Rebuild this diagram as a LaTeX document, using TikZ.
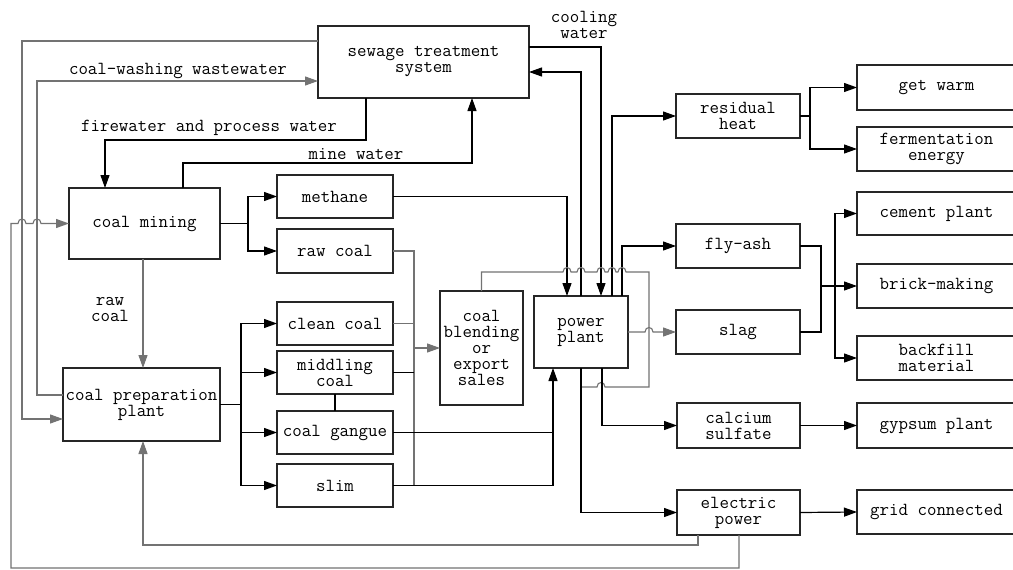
\documentclass[tikz,border=0pt]{standalone}
\usepackage{fontspec}
\usetikzlibrary{arrows.meta}
\newcommand\dgfont{\ttfamily\fontsize{18.4}{16}\selectfont}
\begin{document}
\begin{tikzpicture}[x=1pt,y=-1pt,
  box/.style={draw=black!85, line width=1.3pt, inner sep=0pt, outer sep=0pt, align=center, font=\dgfont},
  lab/.style={inner sep=0pt, align=center, font=\dgfont},
  wire/.style={draw=black, line width=1.2pt},
  gwire/.style={draw=black!55, line width=1.1pt},
  arr/.style={-{Triangle[length=13pt,width=9pt]}},
  rbox/.style={box, minimum width=159pt}]
\path[use as bounding box] (0,0) rectangle (1013,570);
\clip (0,0) rectangle (1013,570);
\fill[white] (0,0) rectangle (1013,570);

% ---- boxes ----
\node[box, minimum width=211pt, minimum height=72pt] (sew) at (423.5,62) {sewage treatment\\system};
\node[box, minimum width=151pt, minimum height=71pt] (mining) at (144.5,223.5) {coal mining};
\node[box, minimum width=116pt, minimum height=43pt] (methane) at (335,196.5) {methane};
\node[box, minimum width=116pt, minimum height=44pt] (rawcoal) at (335,251) {raw coal};
\node[box, minimum width=116pt, minimum height=43pt] (clean) at (335,323.5) {clean coal};
\node[box, minimum width=116pt, minimum height=43pt] (middling) at (335,372.5) {middling\\coal};
\node[box, minimum width=116pt, minimum height=43pt] (gangue) at (335,432.5) {coal gangue};
\node[box, minimum width=116pt, minimum height=43pt] (slim) at (335,485.5) {slim};
\node[box, minimum width=157pt, minimum height=73pt] (prep) at (141.5,404.5) {coal preparation\\plant};
\node[box, minimum width=83pt, minimum height=114pt] (blend) at (481.5,348) {coal\\blending\\or\\export\\sales};
\node[box, minimum width=94pt, minimum height=72pt] (power) at (581,332) {power\\plant};
\node[box, minimum width=124pt, minimum height=44pt] (heat) at (738,116) {residual\\heat};
\node[box, minimum width=124pt, minimum height=44pt] (flyash) at (738,246) {fly-ash};
\node[box, minimum width=124pt, minimum height=44pt] (slag) at (738,332) {slag};
\node[box, minimum width=123pt, minimum height=45pt] (calcium) at (738.5,425.5) {calcium\\sulfate};
\node[box, minimum width=123pt, minimum height=45pt] (electric) at (738.5,512.5) {electric\\power};
\node[rbox, minimum height=45pt] (warm) at (936.5,87.5) {get warm};
\node[rbox, minimum height=44pt] (ferm) at (936.5,149) {fermentation\\energy};
\node[rbox, minimum height=43pt] (cement) at (936.5,213.5) {cement plant};
\node[rbox, minimum height=44pt] (brick) at (936.5,286) {brick-making};
\node[rbox, minimum height=44pt] (backfill) at (936.5,358) {backfill\\material};
\node[rbox, minimum height=45pt] (gypsum) at (936.5,425.5) {gypsum plant};
\node[rbox, minimum height=44pt] (grid) at (936.5,512) {grid connected};

% ---- labels ----
\node[lab] (lwash) at (178,71) {coal-washing wastewater};
\node[lab] (lfire) at (209,128) {firewater and process water};
\node[lab] (lmine) at (356,154) {mine water};
\node[lab] (lcool) at (584,25) {cooling\\water};
\node[lab] (lraw) at (110,309.5) {raw\\coal};

% ---- connectors ----
% sewage -> coal preparation plant (outer loop)
\draw[gwire,arr] (sew.west |- 0,41) -| (22,419) -- (prep.west |- 0,419);
% coal-washing wastewater
\draw[gwire,arr] (prep.west |- 0,395) -| (37,81) -- (sew.west |- 0,81);
% firewater and process water
\draw[wire,arr] (sew.south -| 366,0) |- (105,140) -- (mining.north -| 105,0);
% mine water
\draw[wire,arr] (mining.north -| 183,0) |- (472,163) -- (sew.south -| 472,0);
% coal mining -> methane / raw coal
\coordinate (j1) at (248,223.5);
\draw[wire] (mining.east) -- (j1);
\draw[wire,arr] (j1) |- (methane.west);
\draw[wire,arr] (j1) |- (rawcoal.west);
% coal mining -> coal preparation plant
\draw[gwire,arr] (mining.south -| 143,0) -- (prep.north -| 143,0);
% coal preparation plant -> products
\coordinate (j2) at (241,404.5);
\draw[wire] (prep.east) -- (j2);
\draw[wire,arr] (j2) |- (clean.west);
\draw[wire,arr] (j2) |- (middling.west);
\draw[wire,arr] (j2) |- (gangue.west);
\draw[wire,arr] (j2) |- (slim.west);
\draw[wire] (middling.south) -- (gangue.north);
% bus to coal blending
\draw[gwire] (rawcoal.east) -| (414,485.5);
\draw[gwire] (clean.east) -- (clean.east -| 414,0);
\draw[wire] (middling.east) -- (middling.east -| 414,0);
\draw[gwire,arr] (414,348) -- (blend.west);
% gangue, slim -> power plant
\draw[wire] (gangue.east) -- (gangue.east -| 553,0);
\draw[wire,arr] (slim.east) -| (power.south -| 553,0);
% methane -> power plant
\draw[wire,arr] (methane.east) -| (power.north -| 567,0);
% cooling water
\draw[wire,arr] (sew.east |- 0,47) -| (power.north -| 601,0);
% power plant -> sewage
\draw[wire,arr] (power.north -| 581,0) |- (sew.east |- 0,72);
% power plant -> residual heat, fly-ash
\draw[wire,arr] (power.north -| 612,0) |- (heat.west);
\draw[wire,arr] (power.north -| 622,0) |- (flyash.west);
% coal blending loop with hops
\draw[gwire] (blend.north -| 481.5,0) -- (481.5,272) -- (563,272)
  .. controls (563,266) and (571,266) .. (571,272) -- (577,272)
  .. controls (577,266) and (585,266) .. (585,272) -- (597,272)
  .. controls (597,266) and (605,266) .. (605,272) -- (608,272)
  .. controls (608,266) and (616,266) .. (616,272) -- (618,272)
  .. controls (618,266) and (626,266) .. (626,272) -- (649,272)
  -- (649,387) -- (605,387)
  .. controls (605,381) and (597,381) .. (597,387) -- (581,387);
% power plant -> slag (hop)
\draw[gwire,arr] (power.east) -- (645,332) .. controls (645,326) and (653,326) .. (653,332) -- (slag.west);
% power plant -> calcium sulfate, electric power
\draw[wire,arr] (power.south -| 602,0) |- (calcium.west);
\draw[wire,arr] (power.south -| 581,0) |- (electric.west);
% residual heat -> get warm, fermentation
\coordinate (j3) at (810,116);
\draw[wire] (heat.east) -- (j3);
\draw[wire,arr] (j3) |- (warm.west);
\draw[wire,arr] (j3) |- (ferm.west);
% fly-ash, slag -> cement, brick, backfill
\draw[wire] (flyash.east) -| (821,332) -- (slag.east);
\coordinate (j4) at (835,286);
\draw[wire] (821,286) -- (j4);
\draw[wire,arr] (j4) |- (cement.west);
\draw[wire,arr] (j4) -- (brick.west);
\draw[wire,arr] (j4) |- (backfill.west);
% calcium -> gypsum, electric -> grid
\draw[wire,arr] (calcium.east) -- (gypsum.west);
\draw[wire,arr] (electric.east) -- (grid.west);
% electric power -> coal preparation plant
\draw[gwire,arr] (electric.south -| 698,0) |- (143,545) -- (prep.south -| 143,0);
% electric power -> coal mining (hops)
\draw[gwire,arr] (electric.south -| 739,0) |- (11,568) -- (11,223.5) -- (18,223.5)
  .. controls (18,217.5) and (26,217.5) .. (26,223.5) -- (33,223.5)
  .. controls (33,217.5) and (41,217.5) .. (41,223.5) -- (mining.west);
\end{tikzpicture}
\end{document}
